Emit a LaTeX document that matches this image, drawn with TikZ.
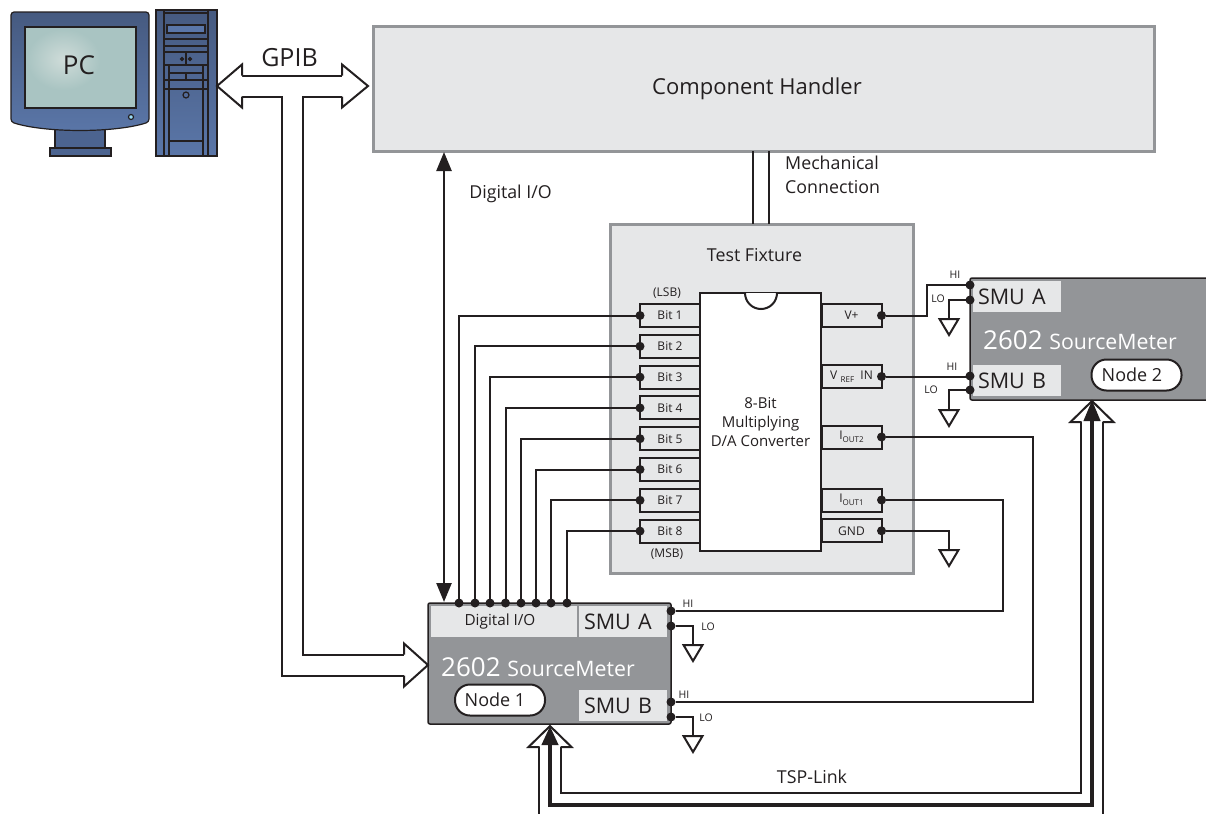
\documentclass[tikz,border=0pt]{standalone}
\usepackage{xcolor}
\usepackage{fontspec}
\setmainfont{Open Sans}
\usepackage{tikz}
\usetikzlibrary{arrows.meta, positioning}
\definecolor{inkdark}{HTML}{231F20}
\definecolor{panelgray}{HTML}{E6E7E8}
\definecolor{edgegray}{HTML}{939598}
\definecolor{pcblue}{HTML}{4C6490}
\definecolor{pcblueup}{HTML}{465A80}
\definecolor{pcbluelow}{HTML}{5A76A8}
\definecolor{screenteal}{HTML}{A9C4C2}
\definecolor{screenglow}{HTML}{CFDCD9}
\newcommand{\fsz}[1]{\fontsize{#1}{#1}\selectfont}
\tikzset{
  panel/.style={rectangle, draw=edgegray, fill=panelgray, line width=3pt, outer sep=0pt,
    align=center},
  meter/.style={rectangle, draw=inkdark, fill=edgegray, line width=1.5pt, rounded corners=2pt,
    outer sep=0pt},
  lightbox/.style={rectangle, fill=panelgray, text=inkdark, text width=78pt, inner xsep=5pt, inner ysep=0pt,
    minimum height=31pt, align=left, font=\fsz{21.5}},
  chip/.style={rectangle, draw=inkdark, fill=white, line width=2pt, minimum width=121pt,
    minimum height=258pt, outer sep=0pt, align=center, text=inkdark, font=\fsz{15}},
  pinbox/.style={rectangle, draw=inkdark, fill=panelgray, line width=2pt, minimum width=60pt,
    minimum height=23pt, inner sep=0pt, outer sep=0pt, text=inkdark, font=\fsz{12}},
  dot/.style={circle, fill=inkdark, minimum size=9pt, inner sep=0pt, outer sep=0pt},
  pill/.style={rectangle, draw=inkdark, fill=white, line width=2pt, rounded corners=15pt, minimum width=90pt,
    minimum height=31pt, text=inkdark, font=\fsz{18}},
  lbl/.style={text=inkdark, inner sep=0pt, align=left},
  whitelbl/.style={text=white, inner sep=0pt, anchor=west},
  wire/.style={draw=inkdark, line width=2pt, line join=miter},
  bus/.style={draw=inkdark, line width=2pt, double=white, double distance=19pt, line join=miter},
  tspwire/.style={draw=inkdark, line width=4pt, line join=miter,
    {Triangle[length=19pt, width=16pt, sep=0pt]}-{Triangle[length=21pt, width=16pt, sep=0pt]}},
  dioarrow/.style={draw=inkdark, line width=2.5pt,
    {Triangle[length=19pt, width=15pt, sep=0pt]}-{Triangle[length=19pt, width=15pt, sep=0pt]}},
  pcline/.style={draw=inkdark, line width=1.2pt},
  pics/hollowhead/.style={code={
    \fill[white] (0,0) -- (-#1,21.5) -- (-#1,-21.5) -- cycle;
    \draw[wire] (-#1,10.5) -- (-#1,21.5) -- (0,0) -- (-#1,-21.5) -- (-#1,-10.5);
  }},
  pics/groundsym/.style={code={
    \draw[wire, fill=white] (-9.5,0) -- (9.5,0) -- (0,16) -- cycle;
  }},
}

\begin{document}
\begin{tikzpicture}[x=1pt, y=-1pt]
\useasboundingbox (0,0) rectangle (1206,814);

% ── PC: monitor and tower ──
\draw[pcline, fill=pcblue] (55,128) rectangle (105,149);
\draw[pcline, fill=pcblue] (50,148) rectangle (111,156);
\draw[pcline, top color=pcblueup, bottom color=pcbluelow, rounded corners=3pt]
  (11,12) -- (149,12) -- (149,122) .. controls (115,133) and (45,133) .. (11,122) -- cycle;
\draw[draw=inkdark, line width=2pt, fill=screenteal] (25,27) rectangle (136,108);
\shade[inner color=screenglow, outer color=screenteal] (27,29) rectangle (100,90);
\draw[pcline, fill=cyan!40] (131,117) circle[radius=2.5pt];
\node[lbl, font=\fsz{26}] (pc) at (79,65) {PC};

\node[rectangle, draw=inkdark, line width=1.2pt, top color=pcblueup, bottom color=pcbluelow,
  minimum width=61pt, minimum height=146pt, outer sep=0pt] (tower) at (186.5,83) {};
\draw[pcline] (164,10) -- (164,156);
\draw[pcline] (208,10) -- (208,156);
\draw[pcline] (164,13) -- (208,13);
\draw[pcline, fill=pcbluelow] (167,25) rectangle (205,33);
\draw[pcline] (164,39) -- (208,39);
\draw[pcline] (164,46) -- (208,46);
\draw[pcline] (164,52) -- (208,52);
\draw[pcline] (164,65) -- (208,65);
\draw[pcline] (186,52) -- (186,65);
\draw[pcline, fill=inkdark] (182,59) circle[radius=1.5pt];
\draw[pcline, fill=inkdark] (190,59) circle[radius=1.5pt];
\draw[pcline] (169,65) -- (169,156);
\draw[pcline] (203,65) -- (203,156);
\draw[pcline] (169,73) -- (203,73);
\draw[pcline] (186,73) -- (186,80);
\draw[pcline] (164,80) -- (208,80);
\draw[pcline] (164,89) -- (208,89);
\draw[pcline] (186,95) circle[radius=3pt];
\draw[pcline] (169,141) -- (203,141);

% ── Handler and fixture ──
\node[panel, minimum width=781pt, minimum height=125pt, text=inkdark, font=\fsz{22}] (handler) at (763.5,88.5) {Component Handler\kern13pt};
\node[panel, minimum width=303pt, minimum height=349pt] (fixture) at (761.5,398.5) {};
\node[lbl, font=\fsz{17.8}] (fixturelbl) at (754.5,255) {Test Fixture};
\node[chip] (dac) at (760.5,422) {8-Bit\\[4pt]Multiplying\\[4pt]D/A Converter};
\fill[white] (745,293) arc[start angle=180, end angle=360, radius=16pt] -- cycle;
\draw[wire] (745,293) arc[start angle=180, end angle=360, radius=16pt];

% ── Left pins ──
\node[pinbox] (bit1) at (670,315.5) {Bit 1};
\node[pinbox, below=7.8pt of bit1] (bit2) {Bit 2};
\node[pinbox, below=7.8pt of bit2] (bit3) {Bit 3};
\node[pinbox, below=7.8pt of bit3] (bit4) {Bit 4};
\node[pinbox, below=7.8pt of bit4] (bit5) {Bit 5};
\node[pinbox, below=7.8pt of bit5] (bit6) {Bit 6};
\node[pinbox, below=7.8pt of bit6] (bit7) {Bit 7};
\node[pinbox, below=7.8pt of bit7] (bit8) {Bit 8};
\node[lbl, font=\fsz{12}, above=5pt of bit1, xshift=-3pt] (lsb) {(LSB)};
\node[lbl, font=\fsz{12}, below=6pt of bit8, xshift=-3pt] (msb) {(MSB)};

% ── Right pins ──
\node[pinbox] (vplus) at (851.5,315.5) {V+};
\node[pinbox, below=38pt of vplus] (vref) {V\raisebox{-3pt}{\fsz{8} \,REF}\ \ IN};
\node[pinbox, below=37.5pt of vref] (iout2) {I\raisebox{-3pt}{\fsz{8}OUT2}};
\node[pinbox, below=40pt of iout2] (iout1) {I\raisebox{-3pt}{\fsz{8}OUT1}};
\node[pinbox, below=7.8pt of iout1] (gnd) {GND};

% ── SourceMeter 2 ──
\node[meter, minimum width=242pt, minimum height=122pt] (meter2) at (1091,339) {};
\node[lightbox] (m2a) at (1017,296.5) {SMU A};
\node[lightbox] (m2b) at (1017,380.5) {SMU B};
\node[whitelbl] (m2name) at (983,340) {\fsz{26}2602 \fsz{21.3}SourceMeter};
\node[pill] (node2) at (1136.5,375) {Node 2\kern9pt};
\node[dot] (m2ahi) at (970,285) {};
\node[dot] (m2alo) at (970,300) {};
\node[dot] (m2bhi) at (970,376) {};
\node[dot] (m2blo) at (970,390) {};

% ── SourceMeter 1 ──
\node[meter, minimum width=243pt, minimum height=121pt] (meter1) at (549.5,663.5) {};
\node[rectangle, fill=panelgray, text=inkdark, minimum width=146pt, minimum height=31pt, font=\fsz{15.3}, inner sep=0pt] (m1dio) at (504,621.5) {Digital I/O\kern8pt};
\node[lightbox] (m1a) at (623,621.5) {SMU A};
\node[lightbox] (m1b) at (623,705.5) {SMU B};
\node[whitelbl] (m1name) at (441,667) {\fsz{26}2602 \fsz{21.3}SourceMeter};
\node[pill] (node1) at (500,700) {Node 1\kern10pt};
\node[dot] (m1ahi) at (671,611) {};
\node[dot] (m1alo) at (671,626) {};
\node[dot] (m1bhi) at (671,702) {};
\node[dot] (m1blo) at (671,717) {};
\node[dot] (dio1) at (459,603) {};
\node[dot] (dio2) at (475,603) {};
\node[dot] (dio3) at (490,603) {};
\node[dot] (dio4) at (505.5,603) {};
\node[dot] (dio5) at (521,603) {};
\node[dot] (dio6) at (536,603) {};
\node[dot] (dio7) at (551,603) {};
\node[dot] (dio8) at (567,603) {};

% ── Pin dots ──
\node[dot] (b1) at (bit1.west) {};
\node[dot] (b2) at (bit2.west) {};
\node[dot] (b3) at (bit3.west) {};
\node[dot] (b4) at (bit4.west) {};
\node[dot] (b5) at (bit5.west) {};
\node[dot] (b6) at (bit6.west) {};
\node[dot] (b7) at (bit7.west) {};
\node[dot] (b8) at (bit8.west) {};
\node[dot] (pvplus) at (vplus.east) {};
\node[dot] (pvref) at (vref.east) {};
\node[dot] (piout2) at (iout2.east) {};
\node[dot] (piout1) at (iout1.east) {};
\node[dot] (pgnd) at (gnd.east) {};

% ── Ground points ──
\coordinate (g1) at (949,319);
\coordinate (g2) at (949,410);
\coordinate (g3) at (693,645);
\coordinate (g4) at (693,736);
\coordinate (g5) at (949,550);
\pic at (g1) {groundsym};
\pic at (g2) {groundsym};
\pic at (g3) {groundsym};
\pic at (g4) {groundsym};
\pic at (g5) {groundsym};

% ── Bit wires ──
\draw[wire] (b1) -| (dio1);
\draw[wire] (b2) -| (dio2);
\draw[wire] (b3) -| (dio3);
\draw[wire] (b4) -| (dio4);
\draw[wire] (b5) -| (dio5);
\draw[wire] (b6) -| (dio6);
\draw[wire] (b7) -| (dio7);
\draw[wire] (b8) -| (dio8);

% ── Output wires ──
\coordinate (vbend) at (927,315.5);
\draw[wire] (pvplus) -- (vbend) |- (m2ahi);
\draw[wire] (pvref) -- (pvref -| m2bhi);
\coordinate (i2bend) at (1033,437);
\coordinate (i1bend) at (1003,500);
\draw[wire] (piout2) -- (i2bend) |- (m1bhi);
\draw[wire] (piout1) -- (i1bend) |- (m1ahi);
\draw[wire] (pgnd) -| (g5);
\draw[wire] (m2alo) -| (g1);
\draw[wire] (m2blo) -| (g2);
\draw[wire] (m1alo) -| (g3);
\draw[wire] (m1blo) -| (g4);

% ── Handler links ──
\coordinate (mech1) at (753,151);
\coordinate (mech2) at (769,151);
\draw[wire] (mech1) -- (mech1 |- fixture.north);
\draw[wire] (mech2) -- (mech2 |- fixture.north);
\node[lbl, anchor=north west, font=\fsz{17.8}] (mechlbl) at (785,156) {Mechanical\\[6pt]Connection};
\coordinate (diotop) at (444,152);
\coordinate (diobot) at (444,602);
\draw[dioarrow] (diotop) -- (diobot);
\node[lbl, font=\fsz{17.8}] (diolbl) at (510.5,194) {Digital I/O};

% ── GPIB ──
\coordinate (gpibl) at (217,86);
\coordinate (gpibr) at (368,86);
\coordinate (gpibjoin) at (292.5,86);
\coordinate (gpibin) at (428,665);
\draw[bus] (241,86) -- (343,86) (gpibjoin) |- (405,665);
\pic[rotate=180] at (gpibl) {hollowhead=25};
\pic at (gpibr) {hollowhead=26};
\pic at (gpibin) {hollowhead=24};
\node[lbl, font=\fsz{25}] (gpiblbl) at (289.5,58) {GPIB};

% ── TSP-Link ──
\coordinate (tsp1) at (550,726);
\coordinate (tsp2) at (1092,400);
\coordinate (tsphead1) at (550,726);
\coordinate (tsphead2) at (1092,401);
\pic[rotate=90] at (tsphead1) {hollowhead=21};
\pic[rotate=90] at (tsphead2) {hollowhead=21};
\coordinate (open1) at (539,814);
\coordinate (open2) at (1103,814);
\coordinate (outerl) at (561,793);
\coordinate (outerr) at (1081,793);
\draw[wire] (539,747) -- (open1);
\draw[wire] (561,747) -- (outerl) -- (outerr) -- (1081,422);
\draw[wire] (1103,422) -- (open2);
\coordinate (tspc1) at (550,805);
\coordinate (tspc2) at (1092,805);
\draw[tspwire] (tsp1) -- (tspc1) -- (tspc2) -- (tsp2);
\node[lbl, font=\fsz{17.8}] (tsplbl) at (812,777) {TSP-Link};

% ── HI / LO ──
\node[lbl, font=\fsz{10.5}] (h1) at (955,275) {HI};
\node[lbl, font=\fsz{10.5}] (l1) at (938,299) {LO};
\node[lbl, font=\fsz{10.5}] (h2) at (952,367) {HI};
\node[lbl, font=\fsz{10.5}] (l2) at (931,390) {LO};
\node[lbl, font=\fsz{10.5}] (h3) at (688,604) {HI};
\node[lbl, font=\fsz{10.5}] (l3) at (708,627) {LO};
\node[lbl, font=\fsz{10.5}] (h4) at (684,695) {HI};
\node[lbl, font=\fsz{10.5}] (l4) at (706,718) {LO};

\end{tikzpicture}
\end{document}
